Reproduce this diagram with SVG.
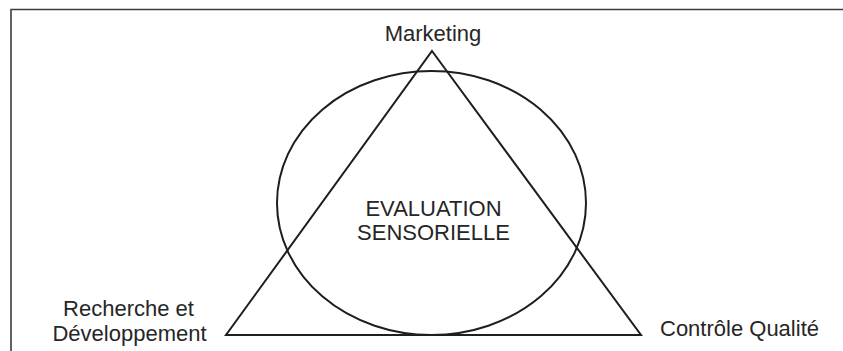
<svg xmlns="http://www.w3.org/2000/svg" width="843" height="351" viewBox="0 0 843 351">
<style>
.frame{fill:none;stroke:#3c3c3c;stroke-width:1.6}
.shape{fill:none;stroke:#1e1e1e;stroke-width:2}
.lbl{font-family:"Liberation Sans",Arial,sans-serif;font-size:22px;fill:#262626}
.c{text-anchor:middle}
</style>
<rect width="843" height="351" fill="#ffffff"/>
<path class="frame" d="M11,351 V9.5 H843"/>
<g id="circle">
<ellipse class="shape" cx="431.5" cy="203" rx="154.5" ry="132"/>
</g>
<g id="triangle">
<polygon class="shape" points="432,51 641,335 226,335" stroke-linejoin="miter"/>
</g>
<g id="center-label">
<text class="lbl c" x="433.5" y="216">EVALUATION</text>
<text class="lbl c" x="433.5" y="240">SENSORIELLE</text>
</g>
<g id="marketing">
<text class="lbl c" x="433" y="41">Marketing</text>
</g>
<g id="rd">
<text class="lbl c" x="128.5" y="316">Recherche et</text>
<text class="lbl c" x="129.5" y="341">Développement</text>
</g>
<g id="qc">
<text class="lbl" x="660" y="336">Contrôle Qualité</text>
</g>
</svg>
